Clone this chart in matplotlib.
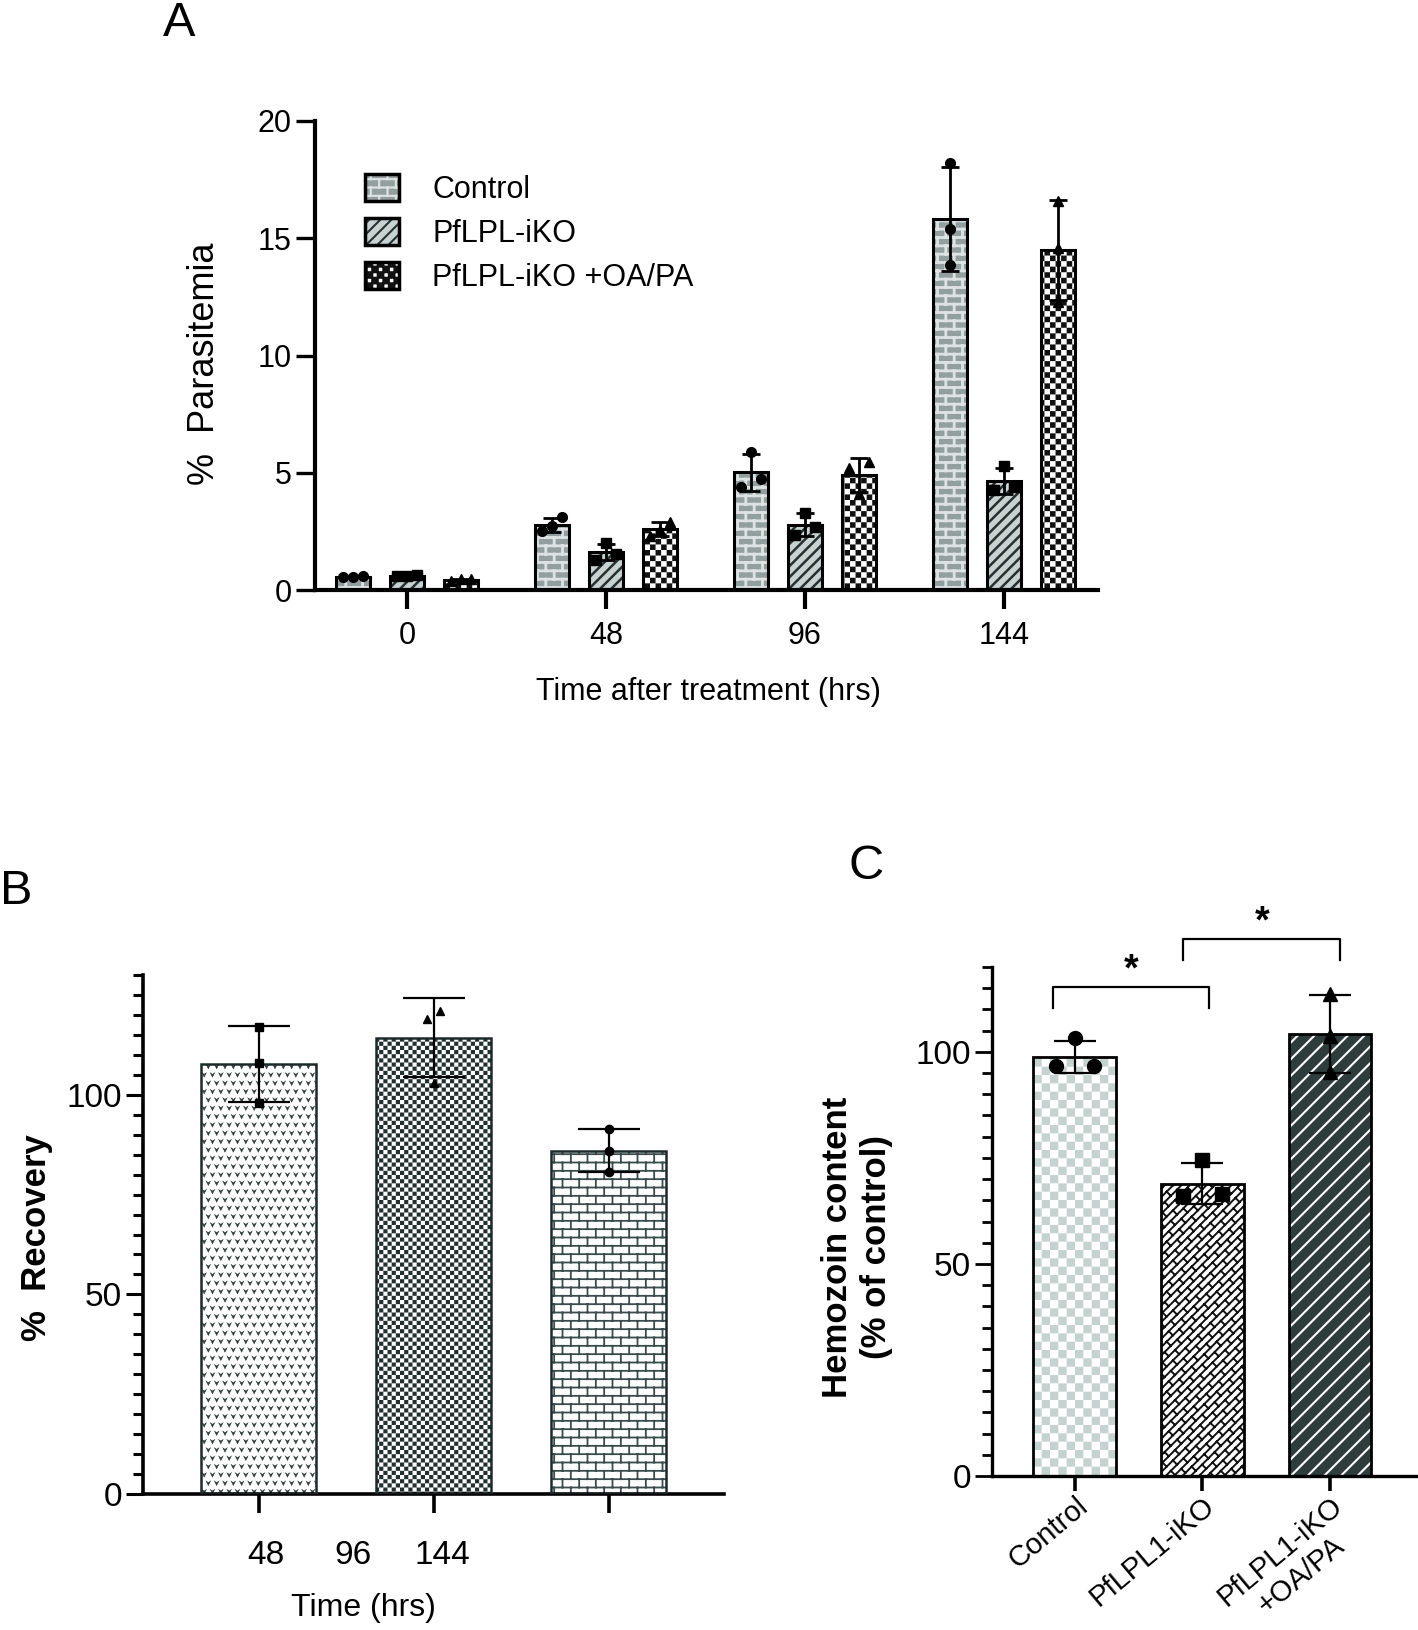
import numpy as np
import matplotlib
matplotlib.use("Agg")
import matplotlib.pyplot as plt
import matplotlib.hatch as mhatch
import matplotlib.transforms as mtransforms
from matplotlib.path import Path
from matplotlib.patches import Patch
from matplotlib.ticker import MultipleLocator

plt.rcParams['font.family'] = ['Liberation Sans', 'DejaVu Sans']
plt.rcParams['hatch.linewidth'] = 1.5

# ---------------- data ----------------
time_labels_A = ['0', '48', '96', '144']
series_names_A = ['Control', 'PfLPL-iKO', 'PfLPL-iKO +OA/PA']
control_A = [[0.6, 0.55, 0.55], [3.1, 2.75, 2.5], [5.9, 4.75, 4.4], [18.2, 15.4, 13.85]]
iko_A = [[0.65, 0.6, 0.6], [2.0, 1.55, 1.3], [3.3, 2.7, 2.35], [5.3, 4.4, 4.25]]
oapa_A = [[0.45, 0.45, 0.4], [2.9, 2.55, 2.3], [5.45, 5.2, 4.1], [16.6, 14.6, 12.3]]
yticks_A = [0, 5, 10, 15, 20]

time_labels_B = ['48', '96', '144']
recovery_B = [[117.0, 108.0, 98.0], [121.0, 119.0, 103.0], [91.4, 86.0, 80.6]]
yticks_B = [0, 50, 100]

groups_C = ['Control', 'PfLPL1-iKO', 'PfLPL1-iKO\n+OA/PA']
hemozoin_C = [[103.2, 96.6, 96.6], [74.5, 66.4, 65.9], [113.7, 103.7, 95.3]]
yticks_C = [0, 50, 100]
sig_labels_C = ['*', '*']

# ---------------- custom hatch patterns ----------------
MOVETO, LINETO, CLOSE = Path.MOVETO, Path.LINETO, Path.CLOSEPOLY


class BrickHatch(mhatch.HatchPatternBase):
    def __init__(self, hatch, density):
        self.rows = hatch.count('b') * density
        self.cols = max(self.rows // 2, 1)
        self.num_vertices = (self.rows * (2 + 2 * self.cols) + 2 * self.cols) if self.rows else 0

    def set_vertices_and_codes(self, vertices, codes):
        h = 1.0 / self.rows
        w = 1.0 / self.cols
        v, c = [], []
        for r in range(-1, self.rows):
            y0 = (r + 0.5) * h
            if r >= 0:
                v += [(0.0, y0), (1.0, y0)]
                c += [MOVETO, LINETO]
            shift = 0.5 * w if r % 2 else 0.0
            for k in range(self.cols):
                x = k * w + shift + 0.25 * w
                v += [(x, y0), (x, y0 + h)]
                c += [MOVETO, LINETO]
        vertices[:] = v
        codes[:] = c


class CheckerHatch(mhatch.HatchPatternBase):
    def __init__(self, hatch, density):
        n = hatch.count('c') * density
        self.n = n + (n % 2)
        self.num_vertices = (self.n * self.n // 2) * 5 if self.n else 0

    def set_vertices_and_codes(self, vertices, codes):
        n = self.n
        s = 1.0 / n
        v, c = [], []
        for i in range(n):
            for j in range(n):
                if (i + j) % 2 == 0:
                    x0, y0 = i * s, j * s
                    v += [(x0, y0), (x0 + s, y0), (x0 + s, y0 + s), (x0, y0 + s), (x0, y0)]
                    c += [MOVETO, LINETO, LINETO, LINETO, CLOSE]
        vertices[:] = v
        codes[:] = c


class DiagHatch(mhatch.HatchPatternBase):
    """'/' lines, three per inch for each 'd'."""
    def __init__(self, hatch, density):
        self.n = hatch.count('d') * 3
        self.num_vertices = (2 * self.n + 1) * 2 if self.n else 0

    def set_vertices_and_codes(self, vertices, codes):
        v, c = [], []
        for k in range(-self.n, self.n + 1):
            cc = k / self.n
            v += [(-0.5, -0.5 + cc), (1.5, 1.5 + cc)]
            c += [MOVETO, LINETO]
        vertices[:] = v
        codes[:] = c


class DiagBrickHatch(mhatch.HatchPatternBase):
    """Brick pattern rotated by 45 degrees."""
    def __init__(self, hatch, density):
        self.n = hatch.count('r') * density
        if self.n:
            p = max(2 * self.n // 3, 2)
            self.p = p + (p % 2)
            self.k_range = list(range(-self.n - 1, self.n + 1))
            self.m_range = list(range(-self.p - 3, 2 * self.p + 3))
            nl = len(self.k_range)
            self.num_vertices = nl * 2 + nl * len(self.m_range) * 2
        else:
            self.num_vertices = 0

    def set_vertices_and_codes(self, vertices, codes):
        n = self.n
        L = 1.0 / self.p
        d = 1.0 / (2 * n)
        v, c = [], []
        for k in self.k_range:
            cc = k / n
            v += [(-0.5, -0.5 + cc), (1.5, 1.5 + cc)]
            c += [MOVETO, LINETO]
        for k in self.k_range:
            cc = k / n
            shift = 0.5 * L if k % 2 else 0.0
            for m in self.m_range:
                t = m * L - k * d + shift
                v += [(t, t + cc), (t - d, t + cc + d)]
                c += [MOVETO, LINETO]
        vertices[:] = v
        codes[:] = c


class VeeHatch(mhatch.Shapes):
    size = 0.25
    filled = True

    def __init__(self, hatch, density):
        self.num_rows = hatch.count('v') * density
        self.shape_vertices = np.array([[-1.0, 1.0], [0.0, -1.0], [1.0, 1.0],
                                        [0.0, 0.3], [-1.0, 1.0]])
        self.shape_codes = np.array([MOVETO, LINETO, LINETO, LINETO, CLOSE],
                                    dtype=Path.code_type)
        super().__init__(hatch, density)


mhatch._hatch_types.extend([BrickHatch, CheckerHatch, DiagHatch, DiagBrickHatch, VeeHatch])
mhatch._validate_hatch_pattern = lambda hatch: None


def set_hlw(p, lw):
    if hasattr(p, 'set_hatch_linewidth'):
        p.set_hatch_linewidth(lw)


def spread(vals, thr, dx):
    vals = np.asarray(vals, float)
    order = np.argsort(vals)
    offs = np.zeros(len(vals))
    clusters = [[order[0]]]
    for i in order[1:]:
        if vals[i] - vals[clusters[-1][-1]] < thr:
            clusters[-1].append(i)
        else:
            clusters.append([i])
    for cl in clusters:
        if len(cl) > 1:
            pos = np.linspace(-dx, dx, len(cl))
            for j, idx in enumerate(cl):
                offs[idx] = pos[j]
    return offs


def draw_series(ax, xs, data, width, st):
    means = [float(np.mean(d)) for d in data]
    sds = [float(np.std(d, ddof=1)) for d in data]
    bars = ax.bar(xs, means, width, color=st['face'], edgecolor=st['hcolor'],
                  hatch=st['hatch'], linewidth=0, zorder=2)
    for p in bars:
        set_hlw(p, st['hlw'])
    ax.bar(xs, means, width, fill=False, edgecolor=st.get('ecolor', 'black'),
           linewidth=st['elw'], zorder=3)
    ax.errorbar(xs, means, yerr=sds, fmt='none', ecolor='black',
                elinewidth=st['errw'], capsize=st['cap'], capthick=st['errw'], zorder=4)
    for x, d in zip(xs, data):
        offs = spread(d, st['thr'], st['dx'])
        ax.plot(np.asarray(x) + offs, d, ls='none', marker=st['marker'], color='black',
                ms=st['ms'], zorder=5, clip_on=False)


W, H = 1418, 1630
fig = plt.figure(figsize=(W / 100, H / 100), dpi=100)


def rect(l, t, r, b):
    return [l / W, 1 - b / H, (r - l) / W, (b - t) / H]


def fx(x):
    return x / W


def fy(y):
    return 1 - y / H


def style_axes(ax, lw):
    for s in ['top', 'right']:
        ax.spines[s].set_visible(False)
    for s in ['left', 'bottom']:
        ax.spines[s].set_linewidth(lw)
        ax.spines[s].set_capstyle('projecting')


# ================= Panel A =================
axA = fig.add_axes(rect(315, 121, 1098, 590))
style_axes(axA, 3.0)
xA = np.arange(len(time_labels_A))
wA, dA = 0.17, 0.27
styles_A = [
    dict(face='#939e9e', hcolor='#dde3e3', hatch='bb', hlw=2.0, elw=2.2, errw=2.0, cap=6.5,
         marker='o', ms=7, thr=0.43, dx=0.05),
    dict(face='#c8d2d0', hcolor='#263232', hatch='ddd', hlw=1.8, elw=2.2, errw=2.0, cap=6.5,
         marker='s', ms=7, thr=0.43, dx=0.05),
    dict(face='white', hcolor='#111111', hatch='ccc', hlw=0.0, elw=2.2, errw=2.0, cap=6.5,
         marker='^', ms=7, thr=0.43, dx=0.05),
]
for i, (data, st) in enumerate(zip([control_A, iko_A, oapa_A], styles_A)):
    draw_series(axA, xA + (i - 1) * dA, data, wA, st)
axA.set_xlim(-0.462, 3.472)
axA.set_ylim(0, 20)
axA.set_yticks(yticks_A)
axA.set_xticks(xA)
axA.set_xticklabels(time_labels_A)
axA.tick_params(axis='y', length=14, width=2.4, labelsize=22, pad=3)
axA.tick_params(axis='x', length=14, width=3.0, labelsize=22, pad=8)

handles = []
for st in styles_A:
    p1 = Patch(facecolor=st['face'], edgecolor=st['hcolor'], hatch=st['hatch'], linewidth=0)
    set_hlw(p1, st['hlw'])
    p2 = Patch(fill=False, edgecolor='black', linewidth=2.5)
    handles.append((p1, p2))
fig.legend(handles, series_names_A, loc='upper left',
           bbox_to_anchor=(fx(365), fy(174)), bbox_transform=fig.transFigure,
           frameon=False, fontsize=22, handlelength=1.1, handleheight=1.0,
           handletextpad=1.1, labelspacing=0.42, borderpad=0, borderaxespad=0)

fig.text(fx(204), fy(364), '%  Parasitemia', rotation=90, ha='center', va='center', fontsize=26)
fig.text(fx(708), fy(692), 'Time after treatment (hrs)', ha='center', va='center', fontsize=22)
fig.text(fx(179), fy(23), 'A', ha='center', va='center', fontsize=35)

# ================= Panel B =================
axB = fig.add_axes(rect(143, 975, 724, 1494))
style_axes(axB, 2.6)
xB = np.arange(len(time_labels_B))
wB = 0.66
styles_B = [
    dict(face='white', hcolor='#2b3838', hatch='vv', hlw=0.4, elw=1.8, errw=1.6, cap=22,
         marker='s', ms=6, thr=2.5, dx=0.035, ecolor='#1e2a2a'),
    dict(face='white', hcolor='#223030', hatch='cccc', hlw=0.0, elw=1.8, errw=1.6, cap=22,
         marker='^', ms=6, thr=2.5, dx=0.035, ecolor='#1e2a2a'),
    dict(face='white', hcolor='#3a4c4c', hatch='bb', hlw=1.3, elw=1.8, errw=1.6, cap=22,
         marker='o', ms=6, thr=2.5, dx=0.035, ecolor='#1e2a2a'),
]
for i, st in enumerate(styles_B):
    draw_series(axB, [xB[i]], [recovery_B[i]], wB, st)
axB.set_xlim(-0.66, 2.66)
axB.set_ylim(0, 130)
axB.set_yticks(yticks_B)
axB.yaxis.set_minor_locator(MultipleLocator(5))
axB.set_xticks(xB)
axB.set_xticklabels([])
axB.tick_params(axis='y', which='major', length=12, width=2.2, labelsize=24, pad=3)
axB.tick_params(axis='y', which='minor', length=7, width=2.2)
axB.tick_params(axis='x', length=14, width=2.6)
tick_text_x_B = [0.04, 0.54, 1.05]
trB = mtransforms.blended_transform_factory(axB.transData, fig.transFigure)
for xt, lab in zip(tick_text_x_B, time_labels_B):
    axB.text(xt, fy(1556), lab, transform=trB, ha='center', va='center', fontsize=24)
fig.text(fx(363), fy(1608), 'Time (hrs)', ha='center', va='center', fontsize=23)
fig.text(fx(37), fy(1238), '%  Recovery', rotation=90, ha='center', va='center',
         fontsize=25, fontweight='bold')
fig.text(fx(16), fy(892), 'B', ha='center', va='center', fontsize=35)

# ================= Panel C =================
axC = fig.add_axes(rect(992, 967, 1418, 1476))
style_axes(axC, 2.4)
xC = np.arange(len(groups_C))
wC = 0.65
styles_C = [
    dict(face='white', hcolor='#c6d2cf', hatch='cc', hlw=0.0, elw=2.0, errw=1.6, cap=15,
         marker='o', ms=10, thr=2.8, dx=0.15),
    dict(face='white', hcolor='#111111', hatch='rr', hlw=1.4, elw=2.0, errw=1.6, cap=15,
         marker='s', ms=10, thr=2.8, dx=0.15),
    dict(face='#2e3c3c', hcolor='white', hatch='//', hlw=1.5, elw=2.0, errw=1.6, cap=15,
         marker='^', ms=10, thr=2.8, dx=0.15),
]
for i, st in enumerate(styles_C):
    draw_series(axC, [xC[i]], [hemozoin_C[i]], wC, st)
axC.set_xlim(-0.65, 2.69)
axC.set_ylim(0, 120)
axC.set_yticks(yticks_C)
axC.yaxis.set_minor_locator(MultipleLocator(5))
axC.set_xticks(xC)

# first line of each category as tick label, further lines set below it
rot_C, fs_C, ticklen_C = 40, 21, 11
first_lines = [g.split('\n')[0] for g in groups_C]
axC.set_xticklabels(first_lines, rotation=rot_C, ha='right', rotation_mode='anchor')
axC.tick_params(axis='y', which='major', length=12, width=2.0, labelsize=24, pad=3)
axC.tick_params(axis='y', which='minor', length=7, width=2.0)
axC.tick_params(axis='x', length=ticklen_C, width=2.6, labelsize=fs_C, pad=0)
ang = np.deg2rad(rot_C)
base_C = mtransforms.blended_transform_factory(axC.transData, axC.transAxes)
for xi, g in zip(xC, groups_C):
    extra = g.split('\n')[1:]
    for j, line in enumerate(extra, start=1):
        along = -0.24            # inches back along the text direction (centring)
        perp = 0.32 * j          # inches down, perpendicular to the text
        dx_in = along * np.cos(ang) + perp * np.sin(ang)
        dy_in = along * np.sin(ang) - perp * np.cos(ang) - ticklen_C / 72
        tr = base_C + mtransforms.ScaledTranslation(dx_in, dy_in, fig.dpi_scale_trans)
        axC.text(xi, 0, line, transform=tr, rotation=rot_C, rotation_mode='anchor',
                 ha='right', va='top', fontsize=fs_C, clip_on=False)

bracket_x_C = [(-0.17, 1.05), (0.85, 2.08)]
bracket_y_C = [115.4, 126.7]
for (x0, x1), yb, lab in zip(bracket_x_C, bracket_y_C, sig_labels_C):
    axC.plot([x0, x0, x1, x1], [yb - 5, yb, yb, yb - 5], color='black', lw=1.6, clip_on=False)
    axC.text((x0 + x1) / 2, yb - 0.5, lab, ha='center', va='bottom', fontsize=27,
             fontweight='bold', clip_on=False)

fig.text(fx(857), fy(1247), 'Hemozoin content\n(% of control)', rotation=90, ha='center',
         va='center', fontsize=25, fontweight='bold', multialignment='center')
fig.text(fx(866), fy(866), 'C', ha='center', va='center', fontsize=35)

fig.savefig('out.png', dpi=100)
